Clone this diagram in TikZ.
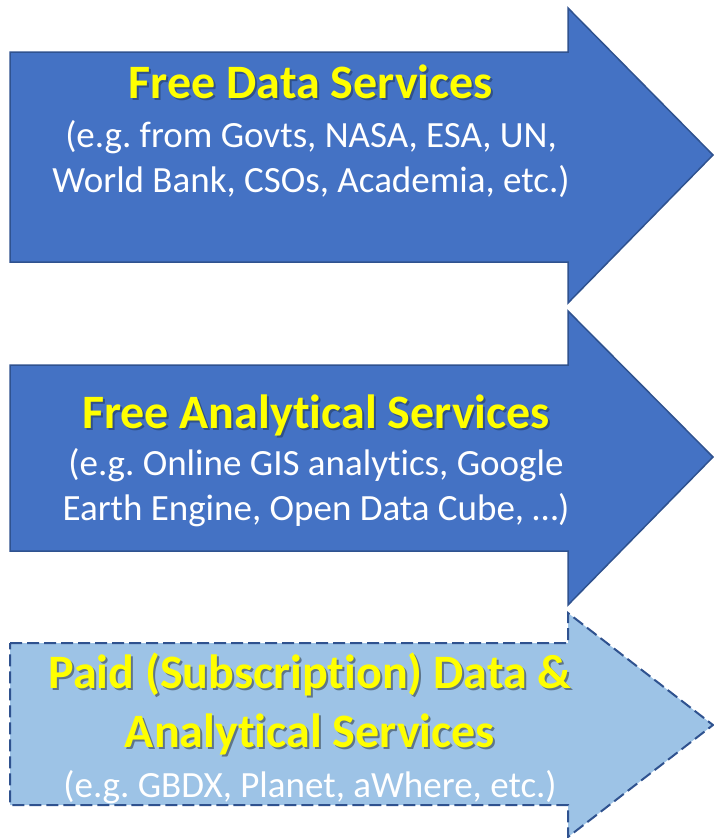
\documentclass[tikz,border=0pt]{standalone}
\usepackage{fontspec}
\setmainfont{Carlito}[Ligatures=NoCommon]
\usetikzlibrary{positioning}
\definecolor{darkfill}{HTML}{4472C4}
\definecolor{darkline}{HTML}{2F528F}
\definecolor{lightfill}{HTML}{9DC3E6}
\definecolor{titleyellow}{HTML}{FFFF00}
\newcommand\shadowed[2]{\leavevmode\rlap{\kern2pt\raisebox{-2pt}{\color{#1}#2}}#2}
\frenchspacing

\begin{document}
\begin{tikzpicture}[x=1pt,y=-1pt,
    darkarrow/.style={fill=darkfill,draw=darkline,line width=1.5pt},
    lightarrow/.style={fill=lightfill,draw=darkline,line width=2pt,dash pattern=on 12pt off 5pt},
    heading/.style={text=titleyellow,font=\bfseries\fontsize{48}{59}\selectfont,align=center,inner sep=0pt,anchor=base},
    detail/.style={text=white,font=\fontsize{37}{45}\selectfont,align=center,inner sep=0pt,anchor=base}]
    \useasboundingbox (0,0) rectangle (714,838);
    % the three arrows
    \draw[darkarrow] (10,52) -- (568,52) -- (568,8) -- (713,155) -- (568,303) -- (568,262) -- (10,262) -- cycle;
    \draw[darkarrow] (10,365) -- (568,365) -- (568,311) -- (713,457) -- (568,605) -- (568,551) -- (10,551) -- cycle;
    \draw[lightarrow] (10,643) -- (568,643) -- (568,613) -- (713,725) -- (568,837) -- (568,805) -- (10,805) -- cycle;
    % texts (base = last line)
    \node[heading] (freedata) at (311,98) {\shadowed{darkfill!70!black}{Free Data Services}};
    \node[detail] (freedatanote) at ([yshift=-94pt]freedata.base) {(e.g. from Govts, NASA, ESA, UN,\\World Bank, CSOs, Academia, etc.)};
    \node[heading] (freeanalytic) at (316,428) {\shadowed{darkfill!70!black}{Free Analytical Services}};
    \node[detail] (freeanalyticnote) at ([yshift=-92pt]freeanalytic.base) {(e.g. Online GIS analytics, Google\\Earth Engine, Open Data Cube, …)};
    \node[heading] (paid) at (310,747) {\shadowed{lightfill!60!black}{Paid (Subscription) Data \&}\\\shadowed{lightfill!60!black}{Analytical Services}};
    \node[detail] (paidnote) at ([yshift=-50pt]paid.base) {(e.g. GBDX, Planet, aWhere, etc.)};
\end{tikzpicture}
\end{document}
